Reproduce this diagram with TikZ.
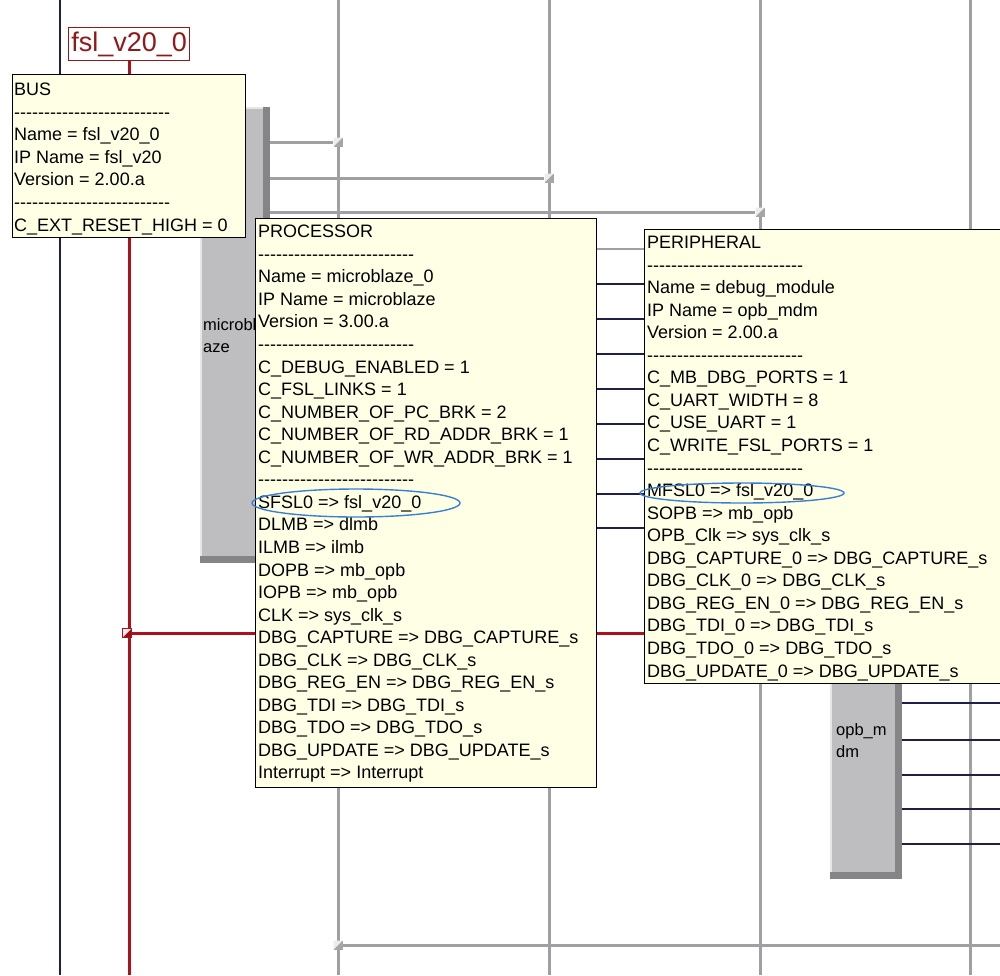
\documentclass[tikz,border=0pt]{standalone}
\usepackage{fontspec}
\setmainfont{Liberation Sans}[Ligatures=TeXOff]
\usepackage{tikz}
\usetikzlibrary{shapes.geometric, positioning, backgrounds, calc}

\definecolor{notefill}{HTML}{FFFFE6}
\definecolor{chipface}{HTML}{BEBEC0}
\definecolor{chipshade}{HTML}{858588}
\definecolor{chiplight}{HTML}{E6E6E8}
\definecolor{wiregray}{HTML}{A0A0A4}
\definecolor{wirenavy}{HTML}{1E2048}
\definecolor{wirered}{HTML}{B0101A}
\definecolor{fslred}{HTML}{8E1A1A}
\definecolor{ringblue}{HTML}{3A80D0}

\newcommand{\guifont}{\fontsize{18}{22.55}\selectfont}
\newcommand{\chipfont}{\fontsize{16.5}{22}\selectfont}
\newcommand{\sepline}{--------------------------}

\begin{document}
\begin{tikzpicture}[
    x=1pt, y=-1pt,
    notebox/.style={rectangle, draw=black, line width=1.3pt, fill=notefill, anchor=north west, inner sep=0pt},
    notetext/.style={anchor=north west, inner sep=0pt, align=left, font=\guifont},
    netname/.style={rectangle, draw=fslred, line width=1.3pt, fill=white, anchor=north west, inner sep=0pt, text=fslred, font=\fontsize{27}{30}\selectfont},
    chip/.style={rectangle, anchor=north west, inner sep=0pt, fill=chipface, align=left, font=\chipfont,
        path picture={
            \fill[chiplight] (path picture bounding box.north west) rectangle ([xshift=2pt]path picture bounding box.south west);
            \fill[chiplight] (path picture bounding box.north west) rectangle ([yshift=-2pt]path picture bounding box.north east);
            \fill[chipshade] ([xshift=-7pt]path picture bounding box.north east) rectangle (path picture bounding box.south east);
            \fill[chipshade] ([yshift=7pt]path picture bounding box.south west) rectangle (path picture bounding box.south east);
        }},
    tap/.style={rectangle, minimum size=9pt, inner sep=0pt, fill=gray!70,
        path picture={\fill[gray!15] (path picture bounding box.north west) -- (path picture bounding box.north east) -- (path picture bounding box.south west) -- cycle;}},
    redtap/.style={tap, fill=wirered!85!black, draw=wirered, line width=1pt},
    ringmark/.style={ellipse, draw=ringblue, line width=1.4pt, inner sep=0pt},
    busline/.style={draw=wiregray, line width=3pt},
    netline/.style={draw=wirenavy, line width=2pt},
    fslline/.style={draw=wirered, line width=3pt}
]
    \useasboundingbox (0,0) rectangle (1000,975);

    % Sheet edges and bus columns
    \coordinate (sheetbottom) at (0,975);
    \coordinate (sheetright) at (1000,0);
    \coordinate (lmbbus) at (60,0);
    \coordinate (busA) at (338,0);
    \coordinate (busB) at (549,0);
    \coordinate (busC) at (760,0);
    \coordinate (busD) at (970,0);

    % Blocks
    \node[chip, minimum width=70, minimum height=456, text width=64] (mbchip) at (200,107) {microbl\\aze};
    \node[chip, minimum width=72, minimum height=278, text width=60] (opbchip) at (830,601) {opb\_m\\dm};

    % Bus instance label
    \node[netname, minimum width=121, minimum height=33] (fsllabel) at (68,27) {fsl\_v20\_0};

    % Info boxes
    \node[notebox, minimum width=233, minimum height=163] (bus) at (12,74) {};
    \node[notetext] (bustext) at ($(bus.north west)+(2,9)$) {\fontsize{18}{22.35}\selectfont BUS\\\sepline\\Name = fsl\_v20\_0\\IP Name = fsl\_v20\\Version = 2.00.a\\\sepline\\C\_EXT\_RESET\_HIGH = 0};

    \node[notebox, minimum width=341, minimum height=569] (proc) at (255,218) {};
    \node[notetext] (proctext) at ($(proc.north west)+(3,7)$) {PROCESSOR\\\sepline\\Name = microblaze\_0\\IP Name = microblaze\\Version = 3.00.a\\\sepline\\C\_DEBUG\_ENABLED = 1\\C\_FSL\_LINKS = 1\\C\_NUMBER\_OF\_PC\_BRK = 2\\C\_NUMBER\_OF\_RD\_ADDR\_BRK = 1\\C\_NUMBER\_OF\_WR\_ADDR\_BRK = 1\\\sepline\\SFSL0 => fsl\_v20\_0\\DLMB => dlmb\\ILMB => ilmb\\DOPB => mb\_opb\\IOPB => mb\_opb\\CLK => sys\_clk\_s\\DBG\_CAPTURE => DBG\_CAPTURE\_s\\DBG\_CLK => DBG\_CLK\_s\\DBG\_REG\_EN => DBG\_REG\_EN\_s\\DBG\_TDI => DBG\_TDI\_s\\DBG\_TDO => DBG\_TDO\_s\\DBG\_UPDATE => DBG\_UPDATE\_s\\Interrupt => Interrupt};

    \node[notebox, minimum width=400, minimum height=454] (peri) at (644,229) {};
    \node[notetext] (peritext) at ($(peri.north west)+(3,7)$) {PERIPHERAL\\\sepline\\Name = debug\_module\\IP Name = opb\_mdm\\Version = 2.00.a\\\sepline\\C\_MB\_DBG\_PORTS = 1\\C\_UART\_WIDTH = 8\\C\_USE\_UART = 1\\C\_WRITE\_FSL\_PORTS = 1\\\sepline\\MFSL0 => fsl\_v20\_0\\SOPB => mb\_opb\\OPB\_Clk => sys\_clk\_s\\DBG\_CAPTURE\_0 => DBG\_CAPTURE\_s\\DBG\_CLK\_0 => DBG\_CLK\_s\\DBG\_REG\_EN\_0 => DBG\_REG\_EN\_s\\DBG\_TDI\_0 => DBG\_TDI\_s\\DBG\_TDO\_0 => DBG\_TDO\_s\\DBG\_UPDATE\_0 => DBG\_UPDATE\_s};

    % Highlights
    \node[ringmark, minimum width=208, minimum height=28] (sfslring) at (356,503) {};
    \node[ringmark, minimum width=204, minimum height=20] (mfslring) at (742,493) {};

    % Bus taps
    \node[tap] (tapA) at (338,142) {};
    \node[tap] (tapB) at (549,178) {};
    \node[tap] (tapC) at (760,212) {};
    \node[tap] (tapD) at (338,945) {};
    \node[redtap] (tapR) at (127,633) {};

    % Wires
    \begin{scope}[on background layer]
        \draw[netline] (lmbbus) -- (lmbbus |- sheetbottom);
        \foreach \col in {busA,busB,busC,busD}
            \draw[busline] (\col) -- (\col |- sheetbottom);
        \foreach \t in {tapA,tapB,tapC}
            \draw[busline] (mbchip.east |- \t) -- (\t);
        \draw[busline] (tapD) -- (sheetright |- tapD);
        \draw[fslline] (fsllabel.south) -- (fsllabel.south |- sheetbottom);
        \draw[fslline] (tapR) -- (peri.west |- tapR);
        \draw[busline, line width=2.2pt] (proc.east |- 0,249) -- (peri.west |- 0,249);
        \foreach \yy in {284,319,354,389,424,459,494,528}
            \draw[netline] (proc.east |- 0,\yy) -- (peri.west |- 0,\yy);
        \foreach \yy in {703,740,775,809,844}
            \draw[netline] (opbchip.east |- 0,\yy) -- (sheetright |- 0,\yy);
    \end{scope}
\end{tikzpicture}
\end{document}
